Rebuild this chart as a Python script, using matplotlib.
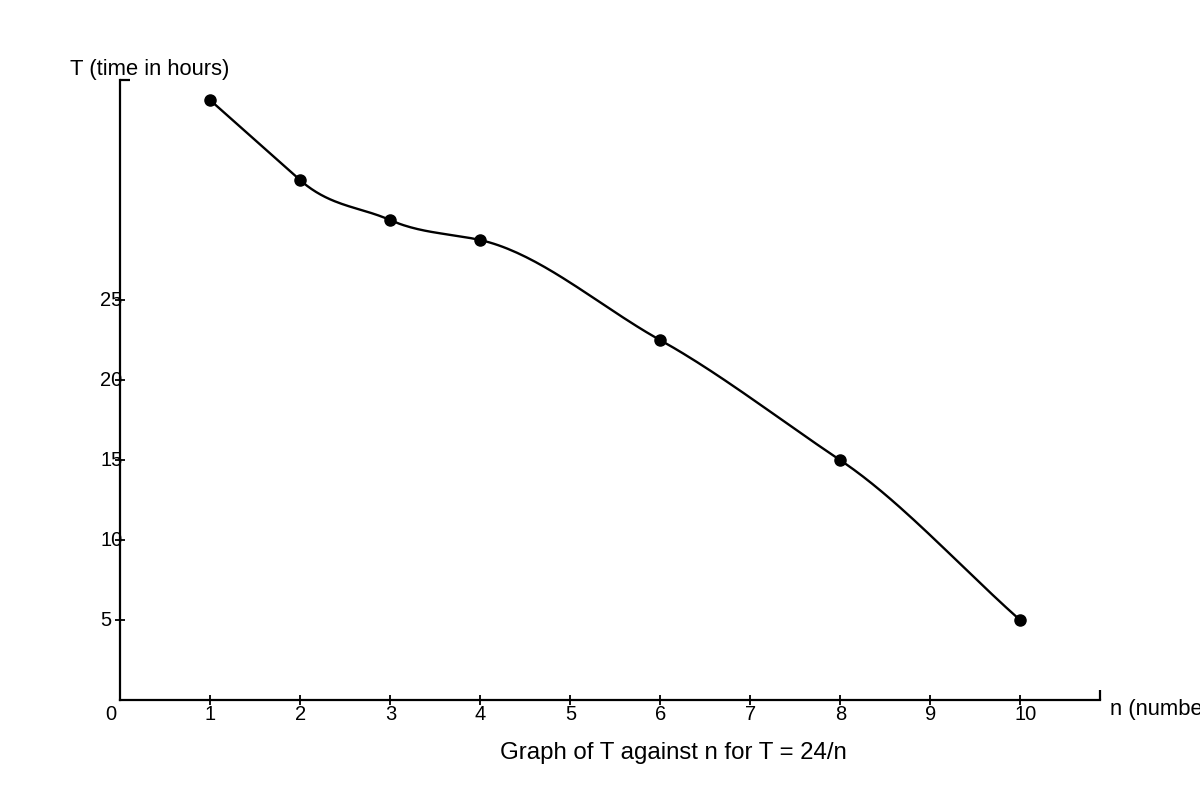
import numpy as np
import matplotlib.pyplot as plt
from matplotlib.transforms import offset_copy

plt.rcParams['font.family'] = ['Liberation Sans', 'DejaVu Sans']

# values
n_values = [1, 2, 3, 4, 6, 8, 10]
t_values = [37.5, 32.5, 30.0, 28.75, 22.5, 15.0, 5.0]
x_ticks = [1, 2, 3, 4, 5, 6, 7, 8, 9, 10]
y_ticks = [5, 10, 15, 20, 25]

title = "Graph of T against n for T = 24/n"
x_label = "n (number of workers)"
y_label = "T (time in hours)"


def smooth_curve(xs, ys, steps=40):
    """Cubic Hermite through the points, tangent = slope of the segment
    coming into each point (display only)."""
    xs = np.asarray(xs, float)
    ys = np.asarray(ys, float)
    secants = np.diff(ys) / np.diff(xs)
    slopes = np.concatenate([[secants[0]], secants])
    px, py = [], []
    for i in range(len(xs) - 1):
        h = xs[i + 1] - xs[i]
        t = np.linspace(0, 1, steps)
        h00 = 2 * t**3 - 3 * t**2 + 1
        h10 = t**3 - 2 * t**2 + t
        h01 = -2 * t**3 + 3 * t**2
        h11 = t**3 - t**2
        seg_y = (h00 * ys[i] + h10 * h * slopes[i]
                 + h01 * ys[i + 1] + h11 * h * slopes[i + 1])
        seg_x = xs[i] + t * h
        start = 0 if i == 0 else 1
        px.extend(seg_x[start:])
        py.extend(seg_y[start:])
    return np.array(px), np.array(py)


fig = plt.figure(figsize=(12, 8), dpi=100)
ax = fig.add_axes([120 / 1200, 100 / 800, 980 / 1200, 620 / 800])
ax.set_xlim(0, 980 / 90)
ax.set_ylim(0, 620 / 16)

for side in ("top", "right"):
    ax.spines[side].set_visible(False)
for side in ("left", "bottom"):
    ax.spines[side].set_linewidth(1.6)
    ax.spines[side].set_color("black")

# little end caps on the axis lines
ax.plot([0, 10 / 980], [1, 1], transform=ax.transAxes, color="black",
        lw=1.6, clip_on=False, solid_capstyle="butt")
ax.plot([1, 1], [0, 10 / 620], transform=ax.transAxes, color="black",
        lw=1.6, clip_on=False, solid_capstyle="butt")

ax.set_xticks(x_ticks)
ax.set_yticks(y_ticks)
ax.tick_params(direction="inout", length=7, width=1.3, labelbottom=False,
               labelleft=False)

xt = offset_copy(ax.get_xaxis_transform(), fig=fig, x=-5, y=-14, units="dots")
for v in x_ticks:
    ax.text(v, 0, str(v), transform=xt, ha="left", va="center", fontsize=14.5)
ax.text(0, 0, "0", transform=offset_copy(ax.get_xaxis_transform(), fig=fig,
        x=-15, y=-14, units="dots"), ha="left", va="center", fontsize=14.5)

yt = offset_copy(ax.get_yaxis_transform(), fig=fig, x=-20, y=0, units="dots")
for v in y_ticks:
    ax.text(0, v, str(v), transform=yt, ha="left", va="center", fontsize=14.5)

cx, cy = smooth_curve(n_values, t_values)
ax.plot(cx, cy, color="black", lw=1.7)
ax.plot(n_values, t_values, "o", color="black", markersize=8)

fig.text(70 / 1200, 1 - 75 / 800, y_label, ha="left", va="baseline",
         fontsize=15.8)
fig.text(1110 / 1200, 1 - 715 / 800, x_label, ha="left", va="baseline",
         fontsize=15.8)
fig.text(673 / 1200, 1 - 759 / 800, title, ha="center", va="baseline",
         fontsize=17.25)

fig.savefig("out.png", dpi=100)
